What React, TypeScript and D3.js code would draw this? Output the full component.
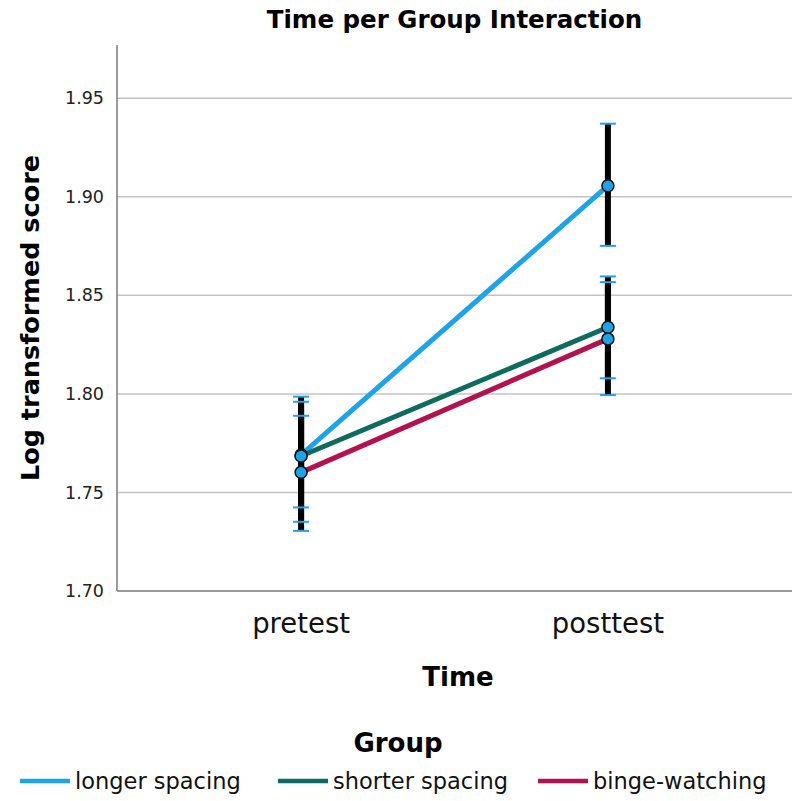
import React from "react";
import * as d3 from "d3";

// time points and groups
const times = ["pretest", "posttest"];
const groups = ["longer spacing", "shorter spacing", "binge-watching"];
const groupColors = ["#1da3e6", "#0e6b5e", "#b3124f"];

// means per group, [pretest, posttest]
const longerMeans = [1.769, 1.9056];
const shorterMeans = [1.7685, 1.8338];
const bingeMeans = [1.7602, 1.8279];

// 95% CI bounds per group, [pretest, posttest]
const longerLow = [1.7351, 1.8751];
const longerHigh = [1.7986, 1.9371];
const shorterLow = [1.7424, 1.8079];
const shorterHigh = [1.796, 1.8596];
const bingeLow = [1.7305, 1.7994];
const bingeHigh = [1.7889, 1.8567];

const yTicks = [1.7, 1.75, 1.8, 1.85, 1.9, 1.95];

const W = 794;
const H = 801;
const margin = { top: 45, right: 2, bottom: 210, left: 117 };
const font = "'DejaVu Sans', Verdana, sans-serif";

export default function App() {
  const series = [
    { name: groups[0], color: groupColors[0], mean: longerMeans, lo: longerLow, hi: longerHigh },
    { name: groups[1], color: groupColors[1], mean: shorterMeans, lo: shorterLow, hi: shorterHigh },
    { name: groups[2], color: groupColors[2], mean: bingeMeans, lo: bingeLow, hi: bingeHigh },
  ];

  const x = d3
    .scalePoint<string>()
    .domain(times)
    .range([margin.left, W - margin.right])
    .padding(0.6);

  const y = d3
    .scaleLinear()
    .domain([1.7, 1.977])
    .range([H - margin.bottom, margin.top]);

  const line = d3
    .line<number>()
    .x((_, i) => x(times[i]) as number)
    .y((d) => y(d));

  const x0 = margin.left;
  const x1 = W - margin.right;
  const yb = H - margin.bottom;

  return (
    <svg
      width={W}
      height={H}
      style={{ position: "absolute", left: 0, top: 0, background: "#fff" }}
      fontFamily={font}
    >
      {/* titulo */}
      <text x={(x0 + x1) / 2} y={28} textAnchor="middle" fontSize={24.5} fontWeight="bold">
        Time per Group Interaction
      </text>

      {/* grid */}
      {yTicks.slice(1).map((t) => (
        <line key={t} x1={x0} x2={x1} y1={y(t)} y2={y(t)} stroke="#c4c4c4" strokeWidth={1.5} />
      ))}

      {/* axes */}
      <line x1={x0} x2={x0} y1={margin.top} y2={yb} stroke="#7a7a7a" strokeWidth={1.5} />
      <line x1={x0} x2={x1} y1={yb} y2={yb} stroke="#7a7a7a" strokeWidth={1.5} />

      {yTicks.map((t) => (
        <text key={t} x={104} y={y(t)} dy="0.35em" textAnchor="end" fontSize={17.5} fill="#222">
          {t.toFixed(2)}
        </text>
      ))}

      {times.map((t) => (
        <text key={t} x={x(t)} y={633} textAnchor="middle" fontSize={27.5} fill="#111">
          {t}
        </text>
      ))}

      <text x={458} y={686} textAnchor="middle" fontSize={26} fontWeight="bold">
        Time
      </text>
      <text
        transform={`translate(39,${(margin.top + yb) / 2}) rotate(-90)`}
        textAnchor="middle"
        fontSize={25.5}
        fontWeight="bold"
      >
        Log transformed score
      </text>

      {/* lines */}
      {series.map((s) => (
        <path key={s.name} d={line(s.mean) || ""} fill="none" stroke={s.color} strokeWidth={5} />
      ))}

      {/* error bars */}
      {series.map((s) =>
        times.map((t, i) => (
          <line
            key={s.name + t}
            x1={x(t)}
            x2={x(t)}
            y1={y(s.lo[i])}
            y2={y(s.hi[i])}
            stroke="#000"
            strokeWidth={6}
          />
        ))
      )}
      {series.map((s) =>
        times.map((t, i) => (
          <g key={"cap" + s.name + t} stroke="#1da3e6" strokeWidth={2}>
            <line x1={(x(t) as number) - 8} x2={(x(t) as number) + 8} y1={y(s.lo[i])} y2={y(s.lo[i])} />
            <line x1={(x(t) as number) - 8} x2={(x(t) as number) + 8} y1={y(s.hi[i])} y2={y(s.hi[i])} />
          </g>
        ))
      )}

      {/* markers */}
      {series.map((s) =>
        times.map((t, i) => (
          <circle
            key={"pt" + s.name + t}
            cx={x(t)}
            cy={y(s.mean[i])}
            r={6}
            fill="#1da3e6"
            stroke="#111"
            strokeWidth={1.5}
          />
        ))
      )}

      {/* legend */}
      <text x={398} y={752} textAnchor="middle" fontSize={26} fontWeight="bold">
        Group
      </text>
      {series.map((s, i) => {
        const lx = [20, 278, 538][i];
        return (
          <g key={"lg" + s.name}>
            <line x1={lx} x2={lx + 50} y1={781} y2={781} stroke={s.color} strokeWidth={4.5} />
            <text x={lx + 55} y={781} dy="0.35em" fontSize={22.5} fill="#111">
              {s.name}
            </text>
          </g>
        );
      })}
    </svg>
  );
}
